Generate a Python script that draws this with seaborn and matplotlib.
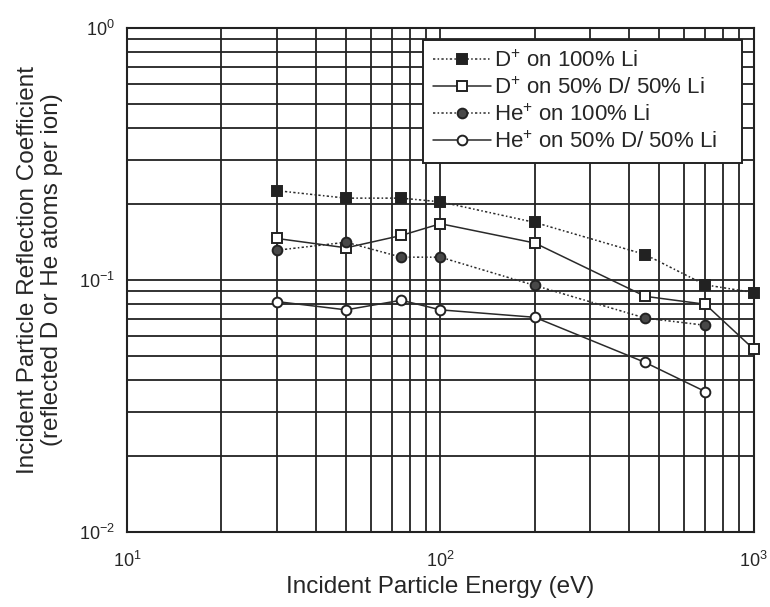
import matplotlib
matplotlib.use("Agg")
import matplotlib.pyplot as plt
import matplotlib.ticker as mticker
import seaborn as sns
import numpy as np

# Incident energies (eV)
energy_d = [30, 50, 75, 100, 200, 450, 700, 1000]
energy_he = [30, 50, 75, 100, 200, 450, 700]

# Reflection coefficients
d_li100 = [0.226, 0.211, 0.211, 0.204, 0.169, 0.126, 0.0955, 0.089]
d_li50 = [0.146, 0.134, 0.150, 0.167, 0.140, 0.086, 0.080, 0.053]
he_li100 = [0.131, 0.141, 0.123, 0.123, 0.095, 0.0705, 0.066]
he_li50 = [0.082, 0.076, 0.083, 0.076, 0.071, 0.047, 0.036]

labels = [r"D$\mathregular{^{+}}$ on 100% Li",
          r"D$\mathregular{^{+}}$ on 50% D/ 50% Li",
          r"He$\mathregular{^{+}}$ on 100% Li",
          r"He$\mathregular{^{+}}$ on 50% D/ 50% Li"]

sns.set_style("white")
plt.rcParams["font.family"] = ["Liberation Sans", "DejaVu Sans"]
plt.rcParams["mathtext.default"] = "regular"

fig = plt.figure(figsize=(7.7, 6.07), dpi=100)
ax = fig.add_axes([0.165, 0.124, 0.814, 0.830])

dotted = (0, (1.5, 1.5, 1, 1.5))
series = [
    (energy_d, d_li100, "s", "#222222", dotted, labels[0]),
    (energy_d, d_li50, "s", "white", "-", labels[1]),
    (energy_he, he_li100, "o", "#484848", dotted, labels[2]),
    (energy_he, he_li50, "o", "white", "-", labels[3]),
]
for x, y, m, fc, ls, lab in series:
    sns.lineplot(x=x, y=y, ax=ax, marker=m, markersize=7, markerfacecolor=fc,
                 markeredgecolor="#222222", markeredgewidth=1.4, color="#2a2a2a",
                 linestyle=ls, linewidth=1.1, label=lab, zorder=5, clip_on=False)

ax.set_xscale("log")
ax.set_yscale("log")
ax.set_xlim(10, 1000)
ax.set_ylim(0.01, 1)

ax.xaxis.set_major_locator(mticker.LogLocator(base=10, numticks=10))
ax.yaxis.set_major_locator(mticker.LogLocator(base=10, numticks=10))
ax.xaxis.set_minor_locator(mticker.LogLocator(base=10, subs=np.arange(2, 10), numticks=10))
ax.yaxis.set_minor_locator(mticker.LogLocator(base=10, subs=np.arange(2, 10), numticks=10))
fmt = mticker.FuncFormatter(lambda v, p: r"$\mathregular{10^{%d}}$" % round(np.log10(v)))
ax.xaxis.set_major_formatter(fmt)
ax.yaxis.set_major_formatter(fmt)
ax.xaxis.set_minor_formatter(mticker.NullFormatter())
ax.yaxis.set_minor_formatter(mticker.NullFormatter())

ax.grid(True, which="both", color="#222222", linewidth=1.3)
ax.tick_params(which="both", length=0, labelsize=13)
ax.tick_params(axis="x", pad=14)
ax.tick_params(axis="y", pad=9)
for s in ax.spines.values():
    s.set_color("#222222")
    s.set_linewidth(1.5)

ax.set_xlabel("Incident Particle Energy (eV)", fontsize=17.5)
ax.set_ylabel("Incident Particle Reflection Coefficient\n(reflected D or He atoms per ion)",
              fontsize=17.5, linespacing=1.12)
ax.xaxis.set_label_coords(0.499, -0.088)
ax.yaxis.set_label_coords(-0.102, 0.52)

leg = ax.legend(loc="upper left", bbox_to_anchor=(0.472, 0.728, 0.509, 0.248),
                mode="expand", fontsize=16,
                frameon=True, fancybox=False, framealpha=1, edgecolor="#222222",
                handlelength=2.6, handletextpad=0.15, labelspacing=0.25,
                borderpad=0.45, borderaxespad=0)
leg.get_frame().set_linewidth(1.4)
leg.set_zorder(10)

fig.savefig("out.png", dpi=100)
